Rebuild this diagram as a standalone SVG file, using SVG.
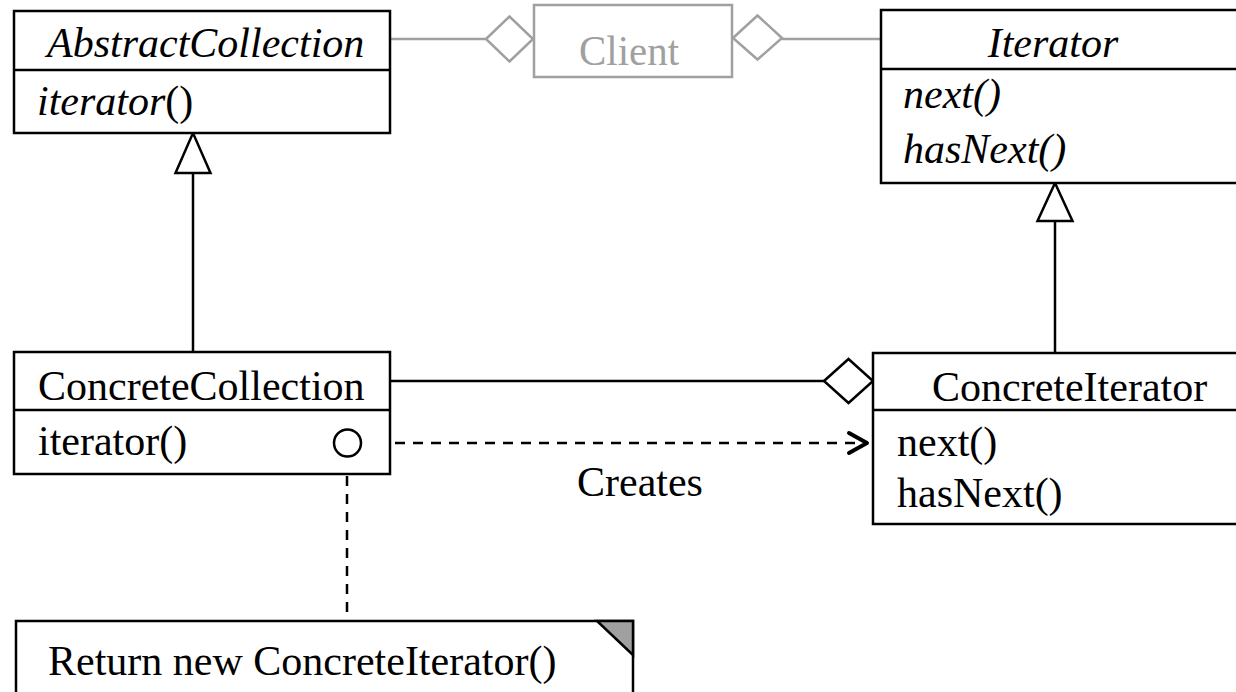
<svg xmlns="http://www.w3.org/2000/svg" width="1236" height="692" viewBox="0 0 1236 692">
  <style>
    text { font-family: "Liberation Serif", "Times New Roman", serif; font-size: 42px; fill: #000; }
    .it { font-style: italic; }
    .box { fill: #fff; stroke: #000; stroke-width: 2.5; }
    .div { stroke: #000; stroke-width: 2.5; }
    .grey { fill: #fff; stroke: #a0a0a0; stroke-width: 2.5; }
    .greytext { fill: #a0a0a0; }
    .line { fill: none; stroke: #000; stroke-width: 2.5; }
    .gline { fill: none; stroke: #a0a0a0; stroke-width: 2.5; }
    .dash { fill: none; stroke: #000; stroke-width: 2.5; stroke-dasharray: 10 8; }
    .head { fill: #fff; stroke: #000; stroke-width: 2.5; stroke-linejoin: miter; }
    .ghead { fill: #fff; stroke: #a0a0a0; stroke-width: 2.5; }
  </style>

  <!-- connectors -->
  <g id="connectors">
    <!-- Client aggregates AbstractCollection and Iterator -->
    <line class="gline" x1="391" y1="39" x2="486" y2="39"/>
    <polygon class="ghead" points="486,39 509.5,16.5 533,39 509.5,61.5"/>
    <line class="gline" x1="782" y1="39" x2="881" y2="39"/>
    <polygon class="ghead" points="733,38 757.5,15.5 782,38 757.5,59.5"/>

    <!-- generalisation: ConcreteCollection -> AbstractCollection -->
    <line class="line" x1="193" y1="173" x2="193" y2="352"/>
    <polygon class="head" points="193,133 175.5,173 210.5,173"/>

    <!-- generalisation: ConcreteIterator -> Iterator -->
    <line class="line" x1="1055" y1="221" x2="1055" y2="353"/>
    <polygon class="head" points="1055,183 1037.5,221 1072.5,221"/>

    <!-- aggregation: ConcreteIterator holds ConcreteCollection -->
    <line class="line" x1="391" y1="381" x2="824" y2="381"/>
    <polygon class="head" points="824,381 848.5,359 873,381 848.5,403"/>

    <!-- dependency: Creates -->
    <line class="dash" x1="395" y1="443" x2="866" y2="443"/>
    <polyline points="849,433 867,443 849,453" fill="none" stroke="#000" stroke-width="4" stroke-linecap="round" stroke-linejoin="round"/>
    <text x="577" y="496">Creates</text>

    <!-- note anchor -->
    <line class="dash" x1="347" y1="458" x2="347" y2="621"/>
  </g>

  <g id="abstract-collection">
    <rect class="box" x="14" y="11" width="376" height="122"/>
    <line class="div" x1="14" y1="70" x2="390" y2="70"/>
    <text class="it" x="47" y="57">AbstractCollection</text>
    <text x="37" y="115"><tspan class="it">iterator</tspan>()</text>
  </g>

  <g id="client">
    <rect class="grey" x="534" y="5" width="198" height="72"/>
    <text class="greytext" x="579" y="65" font-size="54" textLength="100" lengthAdjust="spacingAndGlyphs">Client</text>
  </g>

  <g id="iterator">
    <rect class="box" x="881" y="10" width="370" height="173"/>
    <line class="div" x1="881" y1="69" x2="1251" y2="69"/>
    <text class="it" x="1053" y="57" text-anchor="middle">Iterator</text>
    <text class="it" x="903" y="108">next()</text>
    <text class="it" x="903" y="163">hasNext()</text>
  </g>

  <g id="concrete-collection">
    <rect class="box" x="14" y="352" width="376" height="122"/>
    <line class="div" x1="14" y1="410" x2="390" y2="410"/>
    <text x="38" y="400">ConcreteCollection</text>
    <text x="38" y="455">iterator()</text>
    <circle cx="347.5" cy="443" r="13.5" fill="#fff" stroke="#000" stroke-width="2.5"/>
  </g>

  <g id="concrete-iterator">
    <rect class="box" x="873" y="353" width="378" height="171"/>
    <line class="div" x1="873" y1="410" x2="1251" y2="410"/>
    <text x="932" y="401">ConcreteIterator</text>
    <text x="897" y="456">next()</text>
    <text x="897" y="507">hasNext()</text>
  </g>

  <g id="note">
    <path class="box" d="M16,700 V621 H633 V700"/>
    <polygon points="597,621 633,621 633,655" fill="#a0a0a0" stroke="#000" stroke-width="2.5" stroke-linejoin="miter"/>
    <text x="48" y="675">Return new ConcreteIterator()</text>
  </g>
</svg>
